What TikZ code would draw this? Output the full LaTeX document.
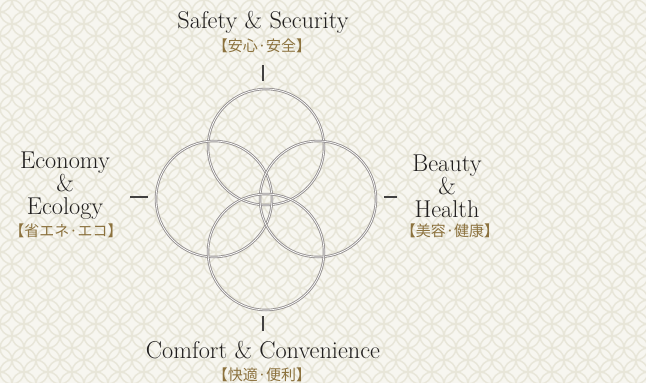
\documentclass[tikz,border=0pt]{standalone}
\usepackage{fontspec}
\usetikzlibrary{positioning}
\newfontfamily\jpfont{Noto Sans CJK JP}
\definecolor{paper}{RGB}{247,246,240}
\definecolor{shippo}{RGB}{232,230,217}
\definecolor{ink}{RGB}{32,30,30}
\definecolor{gold}{RGB}{140,114,62}
\definecolor{silver}{RGB}{150,146,146}

\begin{document}
\begin{tikzpicture}[x=1pt,y=-1pt,
    ring/.style={circle, minimum size=116pt, inner sep=0pt, draw=silver,
      line width=0.9pt, double=white, double distance=0.7pt},
    title/.style={text=ink, font=\fontsize{24.3}{23}\selectfont, align=center},
    jp/.style={text=gold, font=\jpfont\fontsize{15}{16}\selectfont},
    tick/.style={draw=ink!85, line width=1.2pt}]
   % background with shippo pattern
   \fill[paper] (0,0) rectangle (646,383);
   \begin{scope}
    \clip (0,0) rectangle (646,383);
    \foreach \i in {0,...,27}
      \foreach \j in {0,...,16} {
        \draw[shippo, line width=1.5pt] (24*\i,24*\j) circle (12);
        \draw[shippo, line width=1.5pt] (24*\i+12,24*\j+12) circle (12);
      }
   \end{scope}
   \useasboundingbox (0,0) rectangle (646,383);

   % the four rings
   \node[ring] (safety)  at (266,147) {};
   \node[ring] (ecology) at (214,199) {};
   \node[ring] (beauty)  at (318,199) {};
   \node[ring] (comfort) at (266,252) {};

   % labels
   \node[title] (t_safety) at (263,22) {Safety \& Security};
   \node[jp] (j_safety) at (262,46) {【安心·安全】};
   \node[title] (t_ecology) at (65,186) {Economy\\\&\\Ecology};
   \node[jp] (j_ecology) at (66,231) {【省エネ·エコ】};
   \node[title] (t_beauty) at (447,186) {Beauty\\\&\\Health};
   \node[jp] (j_beauty) at (450,231) {【美容·健康】};
   \node[title] (t_comfort) at (263,350) {Comfort \& Convenience};
   \node[jp] (j_comfort) at (262,375) {【快適·便利】};

   % tick ends
   \coordinate (k_safety)  at (263,65);
   \coordinate (k_ecology) at (130,197);
   \coordinate (k_beauty)  at (397,197);
   \coordinate (k_comfort) at (263,331);

   % ticks
   \path[tick]
    (k_safety) edge [shorten >=8pt] (k_safety |- safety.north)
    (k_comfort) edge [shorten >=6pt] (k_comfort |- comfort.south)
    (k_ecology) edge [shorten >=8pt] (k_ecology -| ecology.west)
    (k_beauty) edge [shorten >=8pt] (k_beauty -| beauty.east);
\end{tikzpicture}
\end{document}
